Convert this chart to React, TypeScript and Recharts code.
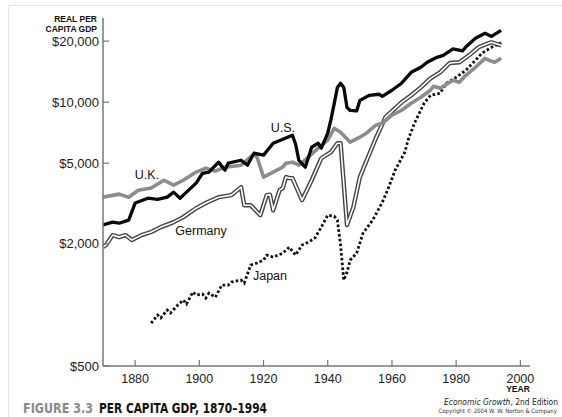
import React from 'react';
import { LineChart, Line, XAxis, YAxis } from 'recharts';

// per capita GDP (log scale)
const usYears = [1870, 1873, 1875, 1878, 1880, 1884, 1887, 1890, 1892, 1894, 1896, 1899, 1901, 1903, 1906, 1908, 1909, 1913, 1915, 1917, 1920, 1923, 1926, 1929, 1930, 1931, 1933, 1935, 1937, 1938, 1940, 1941, 1942, 1943, 1944, 1945, 1946, 1947, 1949, 1950, 1953, 1956, 1957, 1960, 1963, 1966, 1969, 1971, 1974, 1976, 1979, 1982, 1983, 1986, 1989, 1991, 1994];
const usValues = [2480, 2560, 2530, 2620, 3180, 3360, 3320, 3400, 3600, 3360, 3600, 3990, 4460, 4520, 5060, 4620, 5000, 5170, 4890, 5600, 5480, 6270, 6570, 6870, 6200, 5170, 4780, 6000, 6270, 5930, 7030, 8200, 9800, 11800, 12400, 11800, 9400, 9100, 9050, 10200, 10810, 10940, 10690, 11450, 12400, 14030, 14860, 15720, 16640, 17020, 18300, 17900, 18700, 20640, 21850, 21100, 22600];

const ukYears = [1870, 1875, 1878, 1881, 1885, 1889, 1892, 1895, 1899, 1902, 1905, 1908, 1913, 1917, 1918, 1920, 1923, 1926, 1927, 1929, 1931, 1934, 1937, 1940, 1942, 1944, 1947, 1950, 1952, 1955, 1957, 1960, 1963, 1966, 1969, 1972, 1973, 1975, 1979, 1981, 1983, 1986, 1989, 1991, 1992, 1994];
const ukValues = [3400, 3520, 3400, 3680, 3770, 4120, 3900, 4120, 4520, 4720, 4570, 4780, 4890, 5540, 5350, 4270, 4520, 4780, 5000, 5060, 4890, 5350, 5930, 6490, 7430, 7100, 6350, 6720, 7030, 7700, 7870, 8620, 9120, 9870, 10570, 11450, 11980, 11710, 12820, 12530, 13570, 14860, 16450, 15900, 15720, 16450];

const deYears = [1870, 1871, 1873, 1875, 1877, 1879, 1882, 1885, 1888, 1892, 1895, 1899, 1902, 1906, 1910, 1913, 1914, 1916, 1919, 1921, 1922, 1923, 1925, 1926, 1927, 1928, 1929, 1932, 1935, 1938, 1941, 1943, 1944, 1946, 1948, 1950, 1952, 1955, 1958, 1963, 1966, 1969, 1972, 1975, 1978, 1981, 1984, 1987, 1990, 1991, 1994];
const deValues = [1930, 1980, 2210, 2160, 2210, 2090, 2210, 2290, 2420, 2560, 2710, 3000, 3180, 3400, 3480, 3810, 3100, 3100, 2770, 3480, 3500, 2930, 3680, 3770, 4270, 4220, 4220, 3290, 4120, 5290, 5670, 6270, 6270, 2480, 3040, 4270, 5100, 6640, 8430, 9980, 10810, 11830, 13110, 14030, 15600, 15720, 17020, 18640, 19500, 19740, 19070];

const jpYears = [1885, 1887, 1888, 1890, 1891, 1893, 1895, 1896, 1898, 1899, 1901, 1902, 1903, 1905, 1907, 1909, 1910, 1913, 1914, 1916, 1918, 1920, 1921, 1923, 1926, 1928, 1930, 1932, 1934, 1936, 1938, 1940, 1942, 1943, 1944, 1945, 1946, 1947, 1949, 1951, 1954, 1957, 1959, 1961, 1964, 1965, 1967, 1970, 1972, 1975, 1977, 1980, 1983, 1986, 1988, 1991, 1994];
const jpValues = [814, 892, 862, 944, 912, 988, 1057, 1010, 1158, 1119, 1131, 1081, 1144, 1093, 1253, 1253, 1297, 1326, 1282, 1573, 1609, 1664, 1762, 1722, 1802, 1928, 1762, 1973, 2041, 2136, 2420, 2770, 2740, 2620, 1973, 1326, 1450, 1664, 1802, 2260, 2620, 3210, 3810, 4620, 5665, 6490, 7870, 9870, 10810, 11070, 12400, 13260, 14360, 16080, 17420, 18640, 19600];

const xTicks = [1880, 1900, 1920, 1940, 1960, 1980, 2000];
const yTicks = [500, 2000, 5000, 10000, 20000];
const yTickLabels = ['$500', '$2,000', '$5,000', '$10,000', '$20,000'];

const toPoints = (years: number[], values: number[]) =>
  years.map((year, i) => ({ year, value: values[i] }));

const usData = toPoints(usYears, usValues);
const ukData = toPoints(ukYears, ukValues);
const deData = toPoints(deYears, deValues);
const jpData = toPoints(jpYears, jpValues);

const FONT = "'Liberation Sans', Arial, Helvetica, sans-serif";
const NARROW = "'Liberation Sans Narrow', 'DejaVu Sans Condensed', 'Liberation Sans', Arial, sans-serif";

const YTick = (props: any) => {
  const { x, y, index } = props;
  return (
    <g>
      <line x1={x} x2={x + 6} y1={y} y2={y} stroke="#777" strokeWidth={1.2} />
      <text x={x - 4} y={y + 4.5} textAnchor="end" fontSize={13} fill="#222" fontFamily={FONT}>
        {yTickLabels[index]}
      </text>
    </g>
  );
};

const XTick = (props: any) => {
  const { x, y, payload } = props;
  return (
    <g>
      <line x1={x} x2={x} y1={y} y2={y - 6} stroke="#777" strokeWidth={1.2} />
      <text x={x} y={y + 16.5} textAnchor="middle" fontSize={12.5} fill="#222" fontFamily={FONT}>
        {payload.value}
      </text>
    </g>
  );
};

const App = () => {
  return (
    <div style={{ position: 'absolute', left: 0, top: 0, width: 562, height: 417, background: '#fff' }}>
      <LineChart width={562} height={417} margin={{ top: 18, right: 32, bottom: 21, left: 43 }}>
        <XAxis
          dataKey="year"
          type="number"
          domain={[1870, 2003]}
          ticks={xTicks}
          allowDataOverflow
          height={30}
          tickSize={0}
          tickMargin={0}
          tickLine={false}
          axisLine={{ stroke: '#777', strokeWidth: 1.5 }}
          tick={<XTick />}
        />
        <YAxis
          type="number"
          scale="log"
          domain={[500, 26000]}
          ticks={yTicks}
          allowDataOverflow
          width={60}
          tickSize={0}
          tickMargin={0}
          tickLine={false}
          axisLine={{ stroke: '#777', strokeWidth: 1.5 }}
          tick={<YTick />}
        />
        <Line data={jpData} dataKey="value" type="linear" stroke="#111" strokeWidth={2.8}
          strokeDasharray="2.6 2.2" dot={false} isAnimationActive={false} />
        <Line data={deData} dataKey="value" type="linear" stroke="#444" strokeWidth={4.4}
          strokeLinejoin="round" dot={false} isAnimationActive={false} />
        <Line data={deData} dataKey="value" type="linear" stroke="#fff" strokeWidth={1.6}
          strokeLinejoin="round" dot={false} isAnimationActive={false} />
        <Line data={ukData} dataKey="value" type="linear" stroke="#8c8c8c" strokeWidth={3.6}
          strokeLinejoin="round" dot={false} isAnimationActive={false} />
        <Line data={usData} dataKey="value" type="linear" stroke="#0a0a0a" strokeWidth={3.3}
          strokeLinejoin="round" dot={false} isAnimationActive={false} />
      </LineChart>

      <svg width={562} height={417} style={{ position: 'absolute', left: 0, top: 0, pointerEvents: 'none' }}>
        <line x1={8} x2={562} y1={5.5} y2={5.5} stroke="#e4e4e4" strokeWidth={1} />
        <line x1={8.5} x2={8.5} y1={5} y2={417} stroke="#e4e4e4" strokeWidth={1} />

        <text x={97} y={22} textAnchor="end" fontSize={8.5} fontWeight="bold" fill="#111" fontFamily={FONT}>REAL PER</text>
        <text x={97} y={32} textAnchor="end" fontSize={8.5} fontWeight="bold" fill="#111" fontFamily={FONT}>CAPITA GDP</text>
        <text x={518} y={392} textAnchor="middle" fontSize={8.5} fontWeight="bold" fill="#111" fontFamily={FONT}>YEAR</text>

        <text x={283} y={131.5} textAnchor="middle" fontSize={12.5} fill="#111" fontFamily={FONT}>U.S.</text>
        <text x={147} y={178.5} textAnchor="middle" fontSize={12.5} fill="#111" fontFamily={FONT}>U.K.</text>
        <text x={201} y={234.5} textAnchor="middle" fontSize={12.5} fill="#111" fontFamily={FONT}>Germany</text>
        <text x={270} y={279.5} textAnchor="middle" fontSize={12.5} fill="#111" fontFamily={FONT}>Japan</text>

        <text x={93} y={413} textAnchor="end" fontSize={14.6} fontWeight="bold" fill="#8a8a8a" fontFamily={NARROW}
          textLength={70} lengthAdjust="spacingAndGlyphs">FIGURE 3.3</text>
        <text x={99} y={413} fontSize={14.6} fontWeight="bold" fill="#111" fontFamily={NARROW}
          textLength={168} lengthAdjust="spacingAndGlyphs">PER CAPITA GDP, 1870–1994</text>

        <text x={558} y={405} textAnchor="end" fontSize={8.4} fill="#222" fontFamily={NARROW}>
          <tspan fontStyle="italic">Economic Growth</tspan>, 2nd Edition
        </text>
        <text x={557} y={413} textAnchor="end" fontSize={6} fill="#333" fontFamily={NARROW}>
          Copyright © 2004 W. W. Norton &amp; Company
        </text>
      </svg>
    </div>
  );
};

export default App;
